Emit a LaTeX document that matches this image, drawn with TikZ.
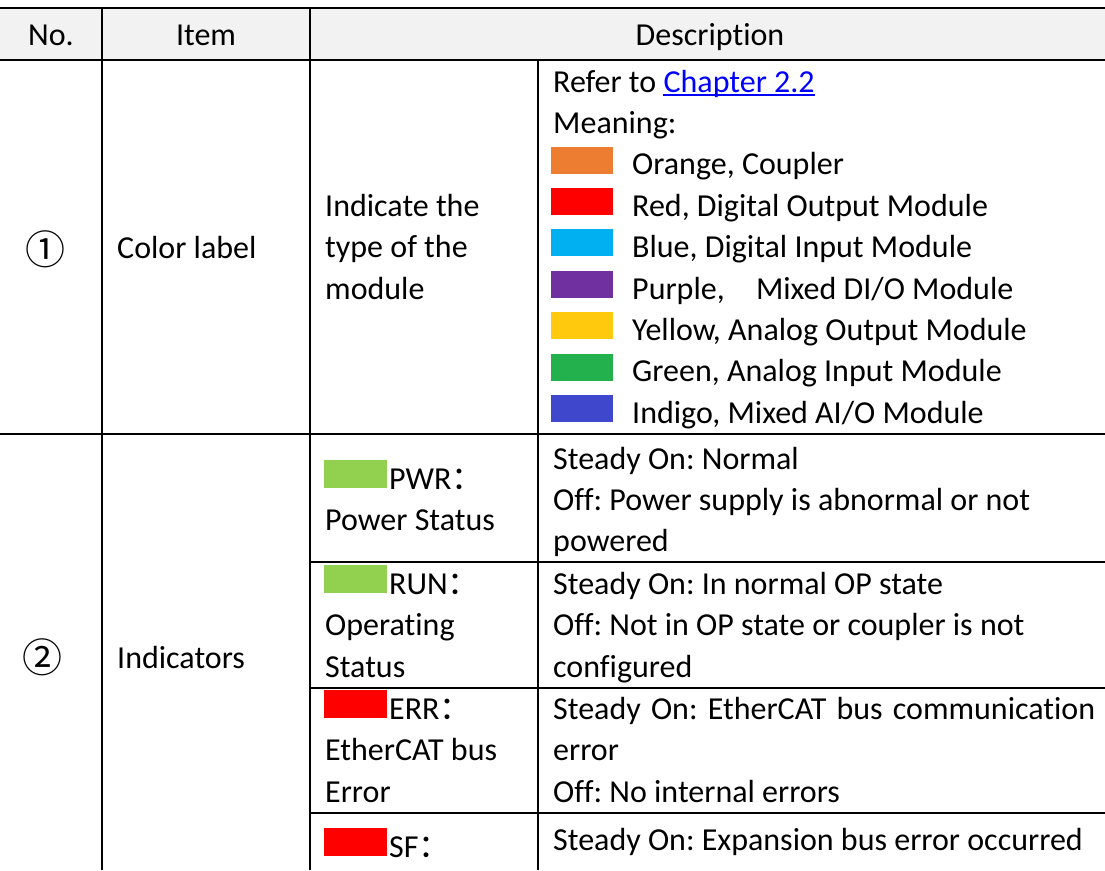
\documentclass[tikz,border=0pt]{standalone}
\usepackage{fontspec}
\setmainfont{Carlito}[Ligatures=CommonOff]
\newfontfamily\cjk{Noto Sans CJK SC}
\definecolor{hdrgray}{HTML}{F2F2F2}
\definecolor{linkblue}{HTML}{0000FF}
\definecolor{swOrange}{HTML}{ED7D31}
\definecolor{swRed}{HTML}{FF0000}
\definecolor{swBlue}{HTML}{00B0F0}
\definecolor{swPurple}{HTML}{7030A0}
\definecolor{swYellow}{HTML}{FFC90E}
\definecolor{swGreen}{HTML}{22B14C}
\definecolor{swIndigo}{HTML}{3F48CC}
\definecolor{ledGreen}{HTML}{92D050}
\newcommand{\fwcolon}{{\cjk ：}}
\frenchspacing

\begin{document}
\begin{tikzpicture}[x=1pt, y=-1pt,
    txt/.style={anchor=base west, inner sep=0pt, font=\fontsize{32}{41.4}\selectfont},
    ctr/.style={anchor=base, inner sep=0pt, font=\fontsize{32}{41.4}\selectfont},
    circnum/.style={inner sep=0pt, font=\cjk\fontsize{40}{41}\selectfont},
    swatch/.style={minimum width=62pt, minimum height=27pt, inner sep=0pt, anchor=south west},
    led/.style={minimum width=63pt, minimum height=28pt, inner sep=0pt, anchor=south west},
    heavy rule/.style={line width=2.5pt},
    light rule/.style={line width=1.6pt}]
    \useasboundingbox (0,0) rectangle (1105,870);

    % header
    \fill[hdrgray] (0,8) rectangle (1105,60);
    \node[ctr] (hno) at (51,45) {No.};
    \node[ctr] (hitem) at (206,45) {Item};
    \node[ctr] (hdesc) at (710,45) {Description};

    % row 1: colour label
    \node[circnum] (no1) at (45,249) {①};
    \node[txt] (item1) at (117,258) {Color label};
    \node[txt] (use1a) at (325,216.2) {Indicate the};
    \node[txt] (use1b) at (325,257.6) {type of the};
    \node[txt] (use1c) at (325,299) {module};
    \node[txt] (refer) at (553,92) {Refer to};
    \node[txt, text=linkblue] (link) at ([xshift=7pt]refer.base east) {Chapter 2.2};
    \draw[linkblue, line width=1.5pt] ([yshift=-3pt]link.base west) -- ([yshift=-3pt]link.base east);
    \node[txt] (meaning) at (553,133.4) {Meaning:};
    \foreach \name/\col/\lbl [count=\i from 2] in {orange/swOrange/{Orange, Coupler},
        red/swRed/{Red, Digital Output Module},
        blue/swBlue/{Blue, Digital Input Module},
        purple/swPurple/{Purple,\hspace{24pt} Mixed DI/O Module},
        yellow/swYellow/{Yellow, Analog Output Module},
        green/swGreen/{Green, Analog Input Module},
        indigo/swIndigo/{Indigo, Mixed AI/O Module}}
    {
        \node[swatch, fill=\col] (sw-\name) at (551,{92+41.4*\i-1}) {};
        \node[txt] (lbl-\name) at (632,{92+41.4*\i}) {\lbl};
    }

    % row 2: indicators
    \node[circnum] (no2) at (43,657) {②};
    \node[txt] (item2) at (117,668) {Indicators};

    \node[led, fill=ledGreen] (led-pwr) at (324,488) {};
    \node[txt] (pwr) at (389,489) {PWR\fwcolon};
    \node[txt] (pwr-b) at (325,530) {Power Status};
    \node[txt] (pwr-d1) at (553,469) {Steady On: Normal};
    \node[txt] (pwr-d2) at (553,510) {Off: Power supply is abnormal or not};
    \node[txt] (pwr-d3) at (553,551) {powered};

    \node[led, fill=ledGreen] (led-run) at (324,593) {};
    \node[txt] (run) at (389,594) {RUN\fwcolon};
    \node[txt] (run-b) at (325,635) {Operating};
    \node[txt] (run-c) at (325,677) {Status};
    \node[txt] (run-d1) at (553,594) {Steady On: In normal OP state};
    \node[txt] (run-d2) at (553,635) {Off: Not in OP state or coupler is not};
    \node[txt] (run-d3) at (553,677) {configured};

    \node[led, fill=swRed] (led-err) at (324,718) {};
    \node[txt] (err) at (389,719) {ERR\fwcolon};
    \node[txt] (err-b) at (325,760) {EtherCAT bus};
    \node[txt] (err-c) at (325,802) {Error};
    \node[txt] (err-d1) at (553,719) {\makebox[542pt][s]{Steady On: EtherCAT bus communication}};
    \node[txt] (err-d2) at (553,760) {error};
    \node[txt] (err-d3) at (553,802) {Off: No internal errors};

    \node[led, fill=swRed] (led-sf) at (324,856) {};
    \node[txt] (sf) at (389,857) {SF\fwcolon};
    \node[txt] (sf-d1) at (553,850) {Steady On: Expansion bus error occurred};

    % rules
    \draw[heavy rule] (0,8) -- (1105,8);
    \draw[heavy rule] (0,60) -- (1105,60);
    \draw[heavy rule] (0,434) -- (1105,434);
    \draw[light rule] (310,562) -- (1105,562);
    \draw[light rule] (310,688) -- (1105,688);
    \draw[light rule] (310,813) -- (1105,813);
    \draw[light rule] (102,8) -- (102,870);
    \draw[light rule] (310,8) -- (310,870);
    \draw[light rule] (538,60) -- (538,870);
\end{tikzpicture}
\end{document}
